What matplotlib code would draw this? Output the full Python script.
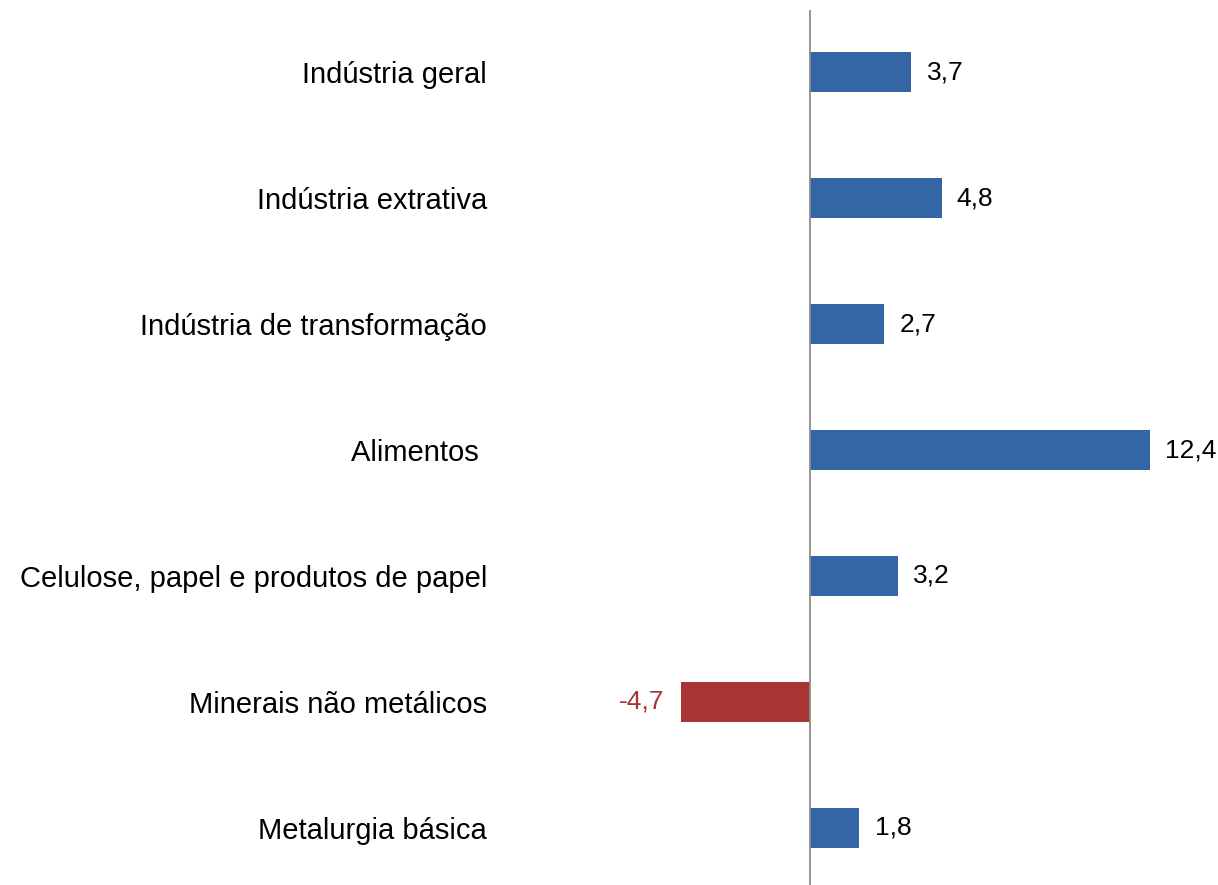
import matplotlib
matplotlib.use("Agg")
import matplotlib.pyplot as plt

categories = ["Indústria geral", "Indústria extrativa", "Indústria de transformação",
              "Alimentos ", "Celulose, papel e produtos de papel",
              "Minerais não metálicos", "Metalurgia básica"]
values = [3.7, 4.8, 2.7, 12.4, 3.2, -4.7, 1.8]
value_labels = ["3,7", "4,8", "2,7", "12,4", "3,2", "-4,7", "1,8"]

plt.rcParams['font.family'] = ['Liberation Sans', 'DejaVu Sans']

W, H = 1218, 885
fig = plt.figure(figsize=(W / 100, H / 100), dpi=100)
ax_left, ax_right = 500, 1200
ax_top, ax_bot = 10, 885
ax = fig.add_axes([ax_left / W, 1 - ax_bot / H, (ax_right - ax_left) / W, (ax_bot - ax_top) / H])

scale = 27.4  # px per unit
x0 = 810
ax.set_xlim((ax_left - x0) / scale, (ax_right - x0) / scale)
ax.set_ylim(6 + 57 / 126, -62 / 126)

blue = "#3465A4"
red = "#A93434"
ypos = list(range(len(categories)))
colors = [blue if v >= 0 else red for v in values]
ax.barh(ypos, values, height=0.31, color=colors, zorder=2)

ax.axvline(0, color="#8c8c8c", lw=1.3, zorder=3)

for s in ax.spines.values():
    s.set_visible(False)
ax.set_xticks([])
ax.set_yticks(ypos)
ax.set_yticklabels(categories, fontsize=21)
ax.tick_params(axis="y", length=0, pad=9.4)

for y, v, lab in zip(ypos, values, value_labels):
    if v >= 0:
        ax.annotate(lab, (v, y), xytext=(11, 0), textcoords="offset points",
                    ha="left", va="center", fontsize=19, color="black")
    else:
        ax.annotate(lab, (v, y), xytext=(-12, 0), textcoords="offset points",
                    ha="right", va="center", fontsize=19, color=red)

fig.savefig("out.png", dpi=100)
